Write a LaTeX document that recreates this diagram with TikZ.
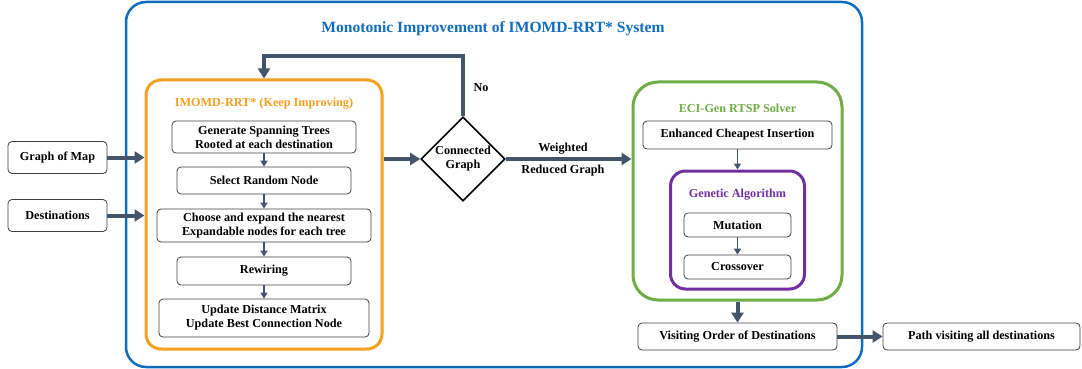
\documentclass[tikz,border=0pt]{standalone}
\usepackage{fontspec}
\setmainfont{Liberation Serif}
\usetikzlibrary{shapes.geometric,arrows.meta}
\definecolor{bluec}{RGB}{16,108,190}
\definecolor{orangec}{RGB}{245,160,30}
\definecolor{greenc}{RGB}{112,173,71}
\definecolor{purplec}{RGB}{112,48,160}
\definecolor{arrowc}{RGB}{68,84,106}
\tikzset{
  txt/.style={font=\fontsize{12.2}{14}\selectfont\bfseries, align=center},
  boxn/.style={txt, draw=black!75, line width=0.8, rounded corners=4, fill=white, inner sep=0},
  bigarrow/.style={draw=arrowc, line width=4, -{Triangle[length=10,width=12]}},
  smallarrow/.style={draw=arrowc, line width=1.6, -{Triangle[length=6,width=7]}},
  container/.style={draw=#1, line width=3, inner sep=0},
}
\begin{document}
\begin{tikzpicture}[x=1pt,y=-1pt]
\useasboundingbox (0,0) rectangle (1082,369);
% outer
\node[draw=bluec, line width=2.5, rounded corners=20, minimum width=736, minimum height=365, inner sep=0] (outer) at (494,184.5) {};
\node[font=\fontsize{15.6}{18}\selectfont\bfseries, text=bluec] (title) at (493,28.5) {Monotonic Improvement of IMOMD-RRT* System};
% inputs
\node[boxn, minimum width=99, minimum height=32] (gom) at (57.5,157.5) {Graph of Map};
\node[boxn, minimum width=99, minimum height=32] (dest) at (57.5,215.5) {Destinations};
% orange container
\node[container=orangec, rounded corners=15, minimum width=236, minimum height=269] (orange) at (264,214.5) {};
\node[txt, text=orangec] (otitle) at (264,104) {IMOMD-RRT* (Keep Improving)};
\node[boxn, minimum width=184, minimum height=32] (gen) at (264,137) {Generate Spanning Trees\\Rooted at each destination};
\node[boxn, minimum width=174, minimum height=27] (sel) at (264,180.5) {Select Random Node};
\node[boxn, minimum width=214, minimum height=33] (cho) at (264,225.5) {Choose and expand the nearest\\Expandable nodes for each tree};
\node[boxn, minimum width=174, minimum height=28] (rew) at (264,271) {Rewiring};
\node[boxn, minimum width=210, minimum height=38] (upd) at (264,318) {Update Distance Matrix\\Update Best Connection Node};
\draw[smallarrow] (gen) -- (sel);
\draw[smallarrow] (sel) -- (cho);
\draw[smallarrow] (cho) -- (rew);
\draw[smallarrow] (rew) -- (upd);
% diamond
\node[diamond, draw=black, line width=1.6, minimum width=84, minimum height=84, inner sep=0] (cg) at (463,159) {};
\node[txt] (cgt) at (cg) {Connected\\Graph};
\coordinate (loop) at (463,56);
\node[txt] (no) at (481,88) {No};
\node[txt] (w1) at (563,149) {Weighted};
\node[txt] (w2) at (563,171) {Reduced Graph};
% green container
\node[container=greenc, rounded corners=25, minimum width=209, minimum height=218] (green) at (737.5,191) {};
\node[txt, text=greenc] (gtitle) at (737.5,108) {ECI-Gen RTSP Solver};
\node[boxn, minimum width=189, minimum height=28] (eci) at (737.5,135) {Enhanced Cheapest Insertion};
\node[container=purplec, rounded corners=15, minimum width=134, minimum height=118] (purple) at (737.5,230) {};
\node[txt, text=purplec] (ptitle) at (737.5,195) {Genetic Algorithm};
\node[boxn, minimum width=107, minimum height=24] (mut) at (737.5,225) {Mutation};
\node[boxn, minimum width=107, minimum height=24] (cro) at (737.5,267) {Crossover};
\draw[smallarrow] (eci) -- (purple);
\draw[smallarrow] (mut) -- (cro);
% outputs
\node[boxn, minimum width=199, minimum height=27] (vis) at (737.5,336.5) {Visiting Order of Destinations};
\node[boxn, minimum width=197, minimum height=27] (path) at (981.5,336.5) {Path visiting all destinations};
% big arrows
\draw[bigarrow] (gom.east) -- (gom.east -| orange.west);
\draw[bigarrow] (dest.east) -- (dest.east -| orange.west);
\draw[bigarrow] (orange.east |- cg.west) -- (cg.west);
\draw[bigarrow] (cg.north) -- (loop) -| (orange.north);
\draw[bigarrow] (cg.east) -- (cg.east -| green.west);
\draw[bigarrow] (green.south) -- (vis.north);
\draw[bigarrow] (vis.east) -- (path.west);
\end{tikzpicture}
\end{document}
